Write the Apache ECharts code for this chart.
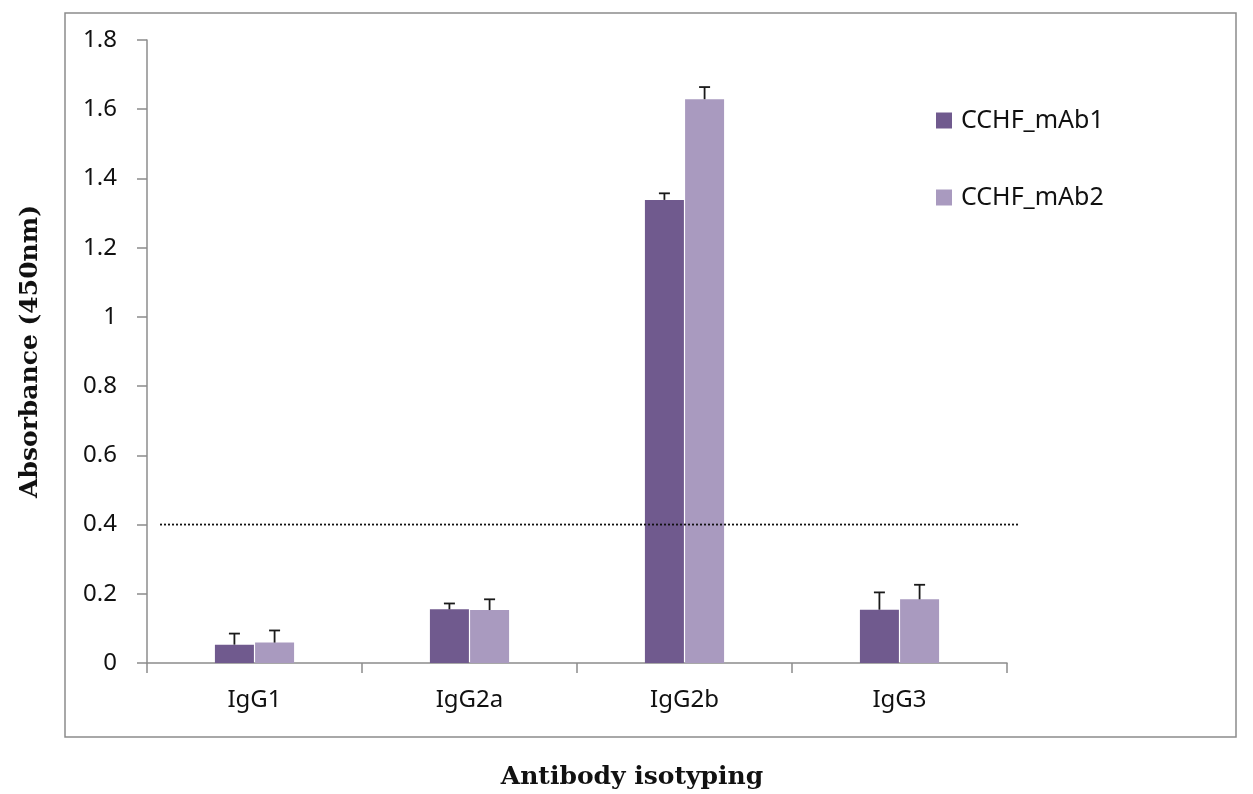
<!DOCTYPE html>
<html>
<head>
<meta charset="utf-8">
<script src="https://cdn.jsdelivr.net/npm/echarts@6/dist/echarts.min.js"></script>
<style>
  html, body { margin: 0; padding: 0; background: #fff; }
  #chart { width: 1253px; height: 794px; }
</style>
</head>
<body>
<div id="chart"></div>
<script>
// Isotype ELISA results for two anti-CCHF monoclonal antibodies
const categories = ['IgG1', 'IgG2a', 'IgG2b', 'IgG3'];
const seriesNames = ['CCHF_mAb1', 'CCHF_mAb2'];
const mAb1Values = [0.053, 0.155, 1.338, 0.154];
const mAb1Errors = [0.032, 0.017, 0.019, 0.050];
const mAb2Values = [0.059, 0.153, 1.629, 0.184];
const mAb2Errors = [0.035, 0.031, 0.035, 0.042];
const yTicks = { min: 0, max: 1.8, interval: 0.2 };
const cutoff = 0.4;

const colors = ['#705A8E', '#A99ABF'];
const labelFont = '"Noto Sans", sans-serif';
const titleFont = '"DejaVu Serif", serif';

const chart = echarts.init(document.getElementById('chart'));

// Error bar: vertical stem above the bar top with a short horizontal cap
function errorBarRenderer(seriesIndex) {
  return function (params, api) {
    const catIdx = api.value(0);
    const top = api.coord([catIdx, api.value(1)]);
    const high = api.coord([catIdx, api.value(2)]);
    const barLayout = api.barLayout({ barWidth: 39, barGap: '3%', count: 2 });
    const offset = barLayout[seriesIndex].offsetCenter;
    const x = top[0] + offset;
    const capHalf = 5.5;
    const style = { stroke: '#1a1a1a', lineWidth: 1.8 };
    return {
      type: 'group',
      children: [
        { type: 'line', shape: { x1: x, y1: top[1], x2: x, y2: high[1] }, style: style },
        { type: 'line', shape: { x1: x - capHalf, y1: high[1], x2: x + capHalf, y2: high[1] }, style: style }
      ]
    };
  };
}

function errorData(values, errors) {
  return values.map((v, i) => [i, v, v + errors[i]]);
}

const option = {
  animation: false,
  backgroundColor: '#fff',
  grid: [
    { left: 147, right: 246, top: 40, bottom: 131 },
    // Wider companion grid carrying the cutoff line past the axis end
    { left: 160, right: 233, top: 40, bottom: 131 }
  ],
  legend: {
    orient: 'vertical',
    left: 931,
    top: 103,
    itemGap: 52,
    itemWidth: 16,
    itemHeight: 16,
    icon: 'rect',
    data: seriesNames,
    textStyle: { fontFamily: labelFont, fontSize: 25, color: '#111', padding: [0, 0, 0, 4] }
  },
  xAxis: [
    {
      type: 'category',
      gridIndex: 0,
      data: categories,
      axisLine: { lineStyle: { color: '#8c8c8c', width: 1.5 } },
      axisTick: { show: true, length: 10, lineStyle: { color: '#8c8c8c', width: 1.5 } },
      axisLabel: { fontFamily: labelFont, fontSize: 24, color: '#111', margin: 25 }
    },
    { type: 'value', gridIndex: 1, min: 0, max: 1, show: false }
  ],
  yAxis: [
    {
      type: 'value',
      gridIndex: 0,
      min: yTicks.min,
      max: yTicks.max,
      interval: yTicks.interval,
      name: 'Absorbance (450nm)',
      nameLocation: 'middle',
      nameGap: 104,
      nameTextStyle: { fontFamily: titleFont, fontWeight: 'bold', fontSize: 25, color: '#111' },
      axisLine: { show: true, lineStyle: { color: '#8c8c8c', width: 1.5 } },
      axisTick: { show: true, length: 10, lineStyle: { color: '#8c8c8c', width: 1.5 } },
      splitLine: { show: false },
      axisLabel: {
        fontFamily: labelFont, fontSize: 24, color: '#111', margin: 30,
        formatter: v => String(Math.round(v * 10) / 10)
      }
    },
    { type: 'value', gridIndex: 1, min: yTicks.min, max: yTicks.max, show: false }
  ],
  graphic: [
    {
      type: 'rect',
      shape: { x: 65, y: 13, width: 1171, height: 724 },
      style: { fill: 'none', stroke: '#8c8c8c', lineWidth: 1.5 },
      z: 0
    },
    {
      type: 'text',
      x: 632,
      y: 777,
      style: {
        text: 'Antibody isotyping',
        font: 'bold 25px "DejaVu Serif", serif',
        fill: '#111',
        align: 'center',
        verticalAlign: 'middle'
      }
    }
  ],
  series: [
    {
      name: seriesNames[0],
      type: 'bar',
      xAxisIndex: 0, yAxisIndex: 0,
      data: mAb1Values,
      barWidth: 39,
      barGap: '3%',
      itemStyle: { color: colors[0] }
    },
    {
      name: seriesNames[1],
      type: 'bar',
      xAxisIndex: 0, yAxisIndex: 0,
      data: mAb2Values,
      barWidth: 39,
      barGap: '3%',
      itemStyle: { color: colors[1] }
    },
    {
      type: 'custom',
      xAxisIndex: 0, yAxisIndex: 0,
      renderItem: errorBarRenderer(0),
      data: errorData(mAb1Values, mAb1Errors),
      encode: { x: 0, y: [1, 2] },
      z: 5
    },
    {
      type: 'custom',
      xAxisIndex: 0, yAxisIndex: 0,
      renderItem: errorBarRenderer(1),
      data: errorData(mAb2Values, mAb2Errors),
      encode: { x: 0, y: [1, 2] },
      z: 5
    },
    {
      type: 'line',
      xAxisIndex: 1, yAxisIndex: 1,
      data: [[0, cutoff], [1, cutoff]],
      symbol: 'none',
      silent: true,
      lineStyle: { color: '#111', width: 1.8, type: [2, 2] },
      z: 6
    }
  ]
};

chart.setOption(option);
</script>
</body>
</html>
